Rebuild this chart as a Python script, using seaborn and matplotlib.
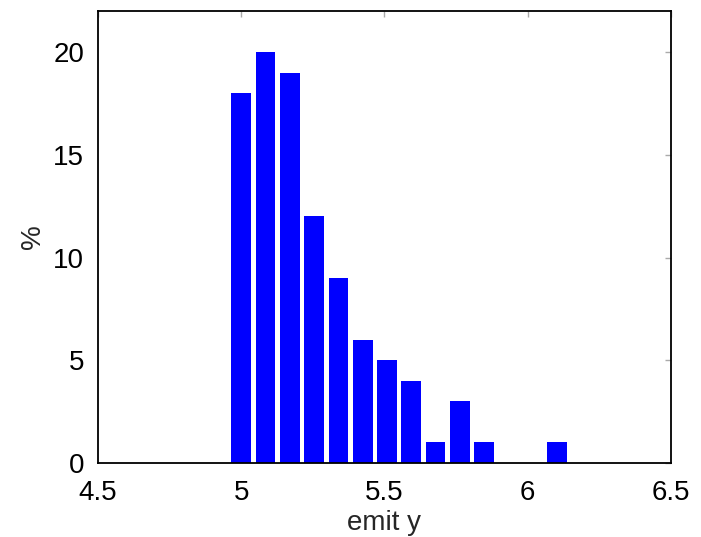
import matplotlib
matplotlib.use("Agg")
import matplotlib.pyplot as plt
import seaborn as sns
import pandas as pd

# Data
bin_centers = [5.000, 5.085, 5.170, 5.254, 5.339, 5.424, 5.509,
               5.593, 5.678, 5.763, 5.848, 5.932, 6.017, 6.102]
percent = [18, 20, 19, 12, 9, 6, 5, 4, 1, 3, 1, 0, 0, 1]
x_ticks = [4.5, 5, 5.5, 6, 6.5]
x_tick_labels = ["4.5", "5", "5.5", "6", "6.5"]
y_ticks = [0, 5, 10, 15, 20]
y_tick_labels = ["0", "5", "10", "15", "20"]

sns.set_style("white")
plt.rcParams["font.family"] = ["Liberation Sans", "DejaVu Sans"]

df = pd.DataFrame({"emit": bin_centers, "pct": percent})

fig = plt.figure(figsize=(7.01, 5.37), dpi=100)
ax = fig.add_axes([0.1398, 0.1378, 0.8174, 0.8417])

sns.barplot(data=df, x="emit", y="pct", native_scale=True, width=0.82,
            color="#0000ff", saturation=1, errorbar=None, linewidth=0,
            ax=ax)

ax.set_xlim(4.5, 6.5)
ax.set_ylim(0, 22)
ax.set_xticks(x_ticks)
ax.set_xticklabels(x_tick_labels)
ax.set_yticks(y_ticks)
ax.set_yticklabels(y_tick_labels)

ax.tick_params(axis="both", direction="in", length=4, width=1,
               color="#aaaaaa", labelsize=20, labelcolor="black",
               top=True, right=True)
ax.tick_params(axis="x", pad=12)
ax.tick_params(axis="y", pad=10)

for s in ax.spines.values():
    s.set_visible(True)
    s.set_color("black")
    s.set_linewidth(1.3)

ax.set_xlabel("emit y", fontsize=20, labelpad=3)
ax.set_ylabel("%", fontsize=20, labelpad=5)

fig.savefig("out.png", dpi=100)
